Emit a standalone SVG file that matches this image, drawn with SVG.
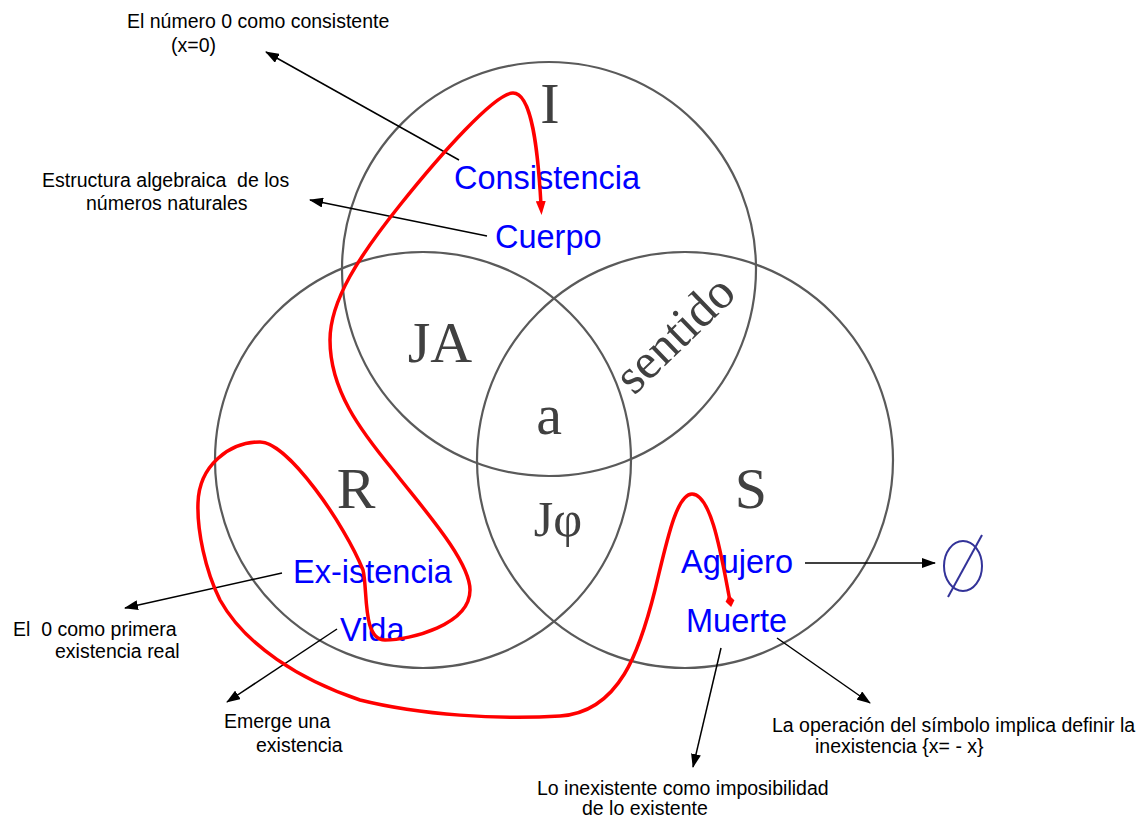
<svg xmlns="http://www.w3.org/2000/svg" width="1143" height="820" viewBox="0 0 1143 820">
<style>
.circ{fill:none;stroke:#5a5a5a;stroke-width:2.2}
.big{font-family:"Liberation Serif","Times New Roman",serif;fill:#404040}
.blue{font-family:"Liberation Sans",Arial,sans-serif;font-size:32.5px;fill:#0000ff}
.note{font-family:"Liberation Sans",Arial,sans-serif;font-size:19.5px;fill:#000}
.conn{stroke:#000;stroke-width:1.5;fill:none;marker-end:url(#ah)}
.red{fill:none;stroke:#ff0000;stroke-width:3.5;stroke-linecap:round;stroke-linejoin:round;marker-end:url(#rah);marker-start:url(#rdia)}
</style>
<defs>
<marker id="ah" markerUnits="userSpaceOnUse" markerWidth="14" markerHeight="10" refX="13" refY="5" orient="auto">
<path d="M0,0 L14,5 L0,10 Z" fill="#000"/>
</marker>
<marker id="rah" markerUnits="userSpaceOnUse" markerWidth="14" markerHeight="10" refX="4" refY="5" orient="auto">
<path d="M0,0 L14,5 L0,10 Z" fill="#ff0000"/>
</marker>
<marker id="rdia" markerUnits="userSpaceOnUse" markerWidth="12" markerHeight="12" refX="6" refY="6" orient="auto">
<path d="M0,6 L6,1.5 L12,6 L6,10.5 Z" fill="#ff0000"/>
</marker>
</defs>
<rect width="1143" height="820" fill="#fff"/>

<g id="venn">
<circle id="circle-I" class="circ" cx="549" cy="269" r="207"/>
<circle id="circle-R" class="circ" cx="423" cy="460" r="208"/>
<circle id="circle-S" class="circ" cx="685" cy="460" r="208"/>
<text class="big" x="550" y="123" font-size="58" text-anchor="middle">I</text>
<text class="big" x="440" y="362" font-size="58" text-anchor="middle">JA</text>
<text class="big" x="549" y="434" font-size="58" text-anchor="middle">a</text>
<text class="big" x="356" y="508" font-size="58" text-anchor="middle">R</text>
<text class="big" x="751" y="508" font-size="58" text-anchor="middle">S</text>
<text class="big" x="558" y="536" font-size="50" text-anchor="middle">Jφ</text>
<text class="big" font-size="50" transform="translate(634,396) rotate(-44)">sentido</text>
</g>

<g id="node-consistencia"><text class="blue" x="454" y="189">Consistencia</text></g>
<g id="node-cuerpo"><text class="blue" x="495" y="248">Cuerpo</text></g>
<g id="node-existencia"><text class="blue" x="293" y="583">Ex-istencia</text></g>
<g id="node-vida"><text class="blue" x="340" y="641">Vida</text></g>
<g id="node-agujero"><text class="blue" x="681" y="573">Agujero</text></g>
<g id="node-muerte"><text class="blue" x="686" y="632">Muerte</text></g>

<g id="node-empty-set">
<ellipse cx="963" cy="566" rx="19" ry="25" fill="none" stroke="#333399" stroke-width="2"/>
<line x1="948" y1="597" x2="982" y2="535" stroke="#333399" stroke-width="2"/>
</g>

<g id="note-consistente">
<text class="note" x="127" y="28">El número 0 como consistente</text>
<text class="note" x="171" y="52">(x=0)</text>
</g>
<g id="note-estructura">
<text class="note" x="42" y="187" xml:space="preserve">Estructura algebraica  de los</text>
<text class="note" x="86" y="210">números naturales</text>
</g>
<g id="note-primera">
<text class="note" x="13" y="636" xml:space="preserve">El  0 como primera</text>
<text class="note" x="55" y="658">existencia real</text>
</g>
<g id="note-emerge">
<text class="note" x="224" y="728">Emerge una</text>
<text class="note" x="256" y="752">existencia</text>
</g>
<g id="note-operacion">
<text class="note" x="772" y="732">La operación del símbolo implica definir la</text>
<text class="note" x="815" y="753">inexistencia {x= - x}</text>
</g>
<g id="note-inexistente">
<text class="note" x="537" y="795">Lo inexistente como imposibilidad</text>
<text class="note" x="582" y="815">de lo existente</text>
</g>

<g id="connectors">
<line class="conn" x1="459" y1="160" x2="266" y2="52"/>
<line class="conn" x1="487" y1="236" x2="310" y2="200"/>
<line class="conn" x1="282" y1="573" x2="125" y2="608"/>
<line class="conn" x1="337" y1="629" x2="227" y2="702"/>
<line class="conn" x1="805" y1="563" x2="935" y2="563"/>
<line class="conn" x1="721" y1="648" x2="693" y2="767"/>
<line class="conn" x1="777" y1="638" x2="870" y2="703"/>
<path class="red" d="M730,601 C722,560 712,494 692,494 C676,494 666,545 655,590 C640,650 620,712 560,716 C500,720 420,715 360,700 C300,680 245,645 220,600 C205,570 197,530 198,503 C199,465 230,442 260,442 C288,442 345,525 363,570 C368,590 362,640 385,640 C410,640 470,625 470,590 C470,560 420,505 393,470 C360,430 330,390 330,340 C330,300 360,255 400,205 C440,155 495,93 513,93 C532,93 538,150 541,205"/>
</g>
</svg>
